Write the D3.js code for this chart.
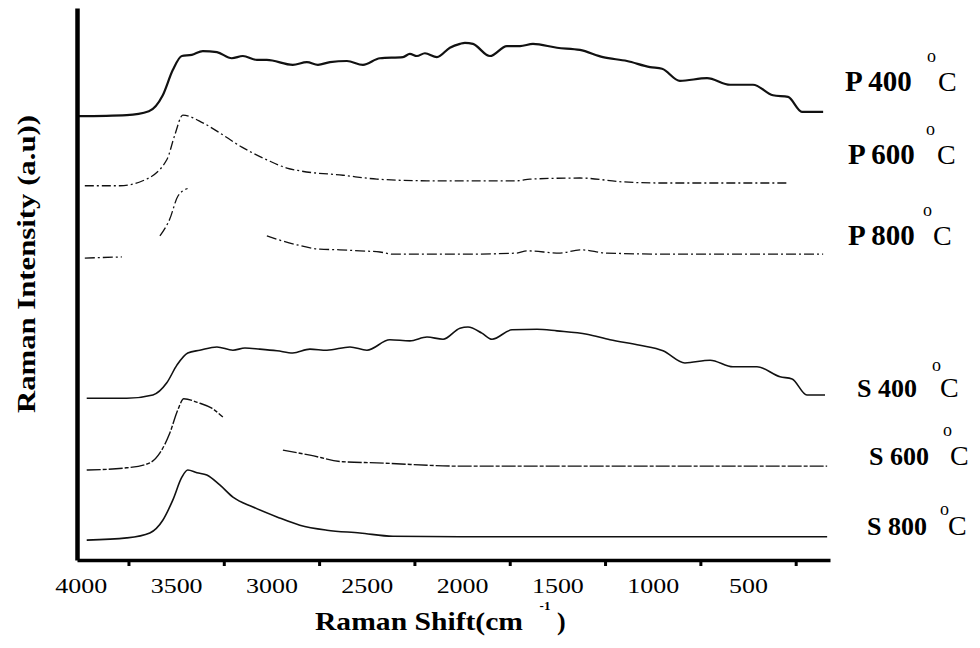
<!DOCTYPE html>
<html><head><meta charset="utf-8">
<script src="https://cdn.jsdelivr.net/npm/d3@7"></script>
<style>html,body{margin:0;padding:0;background:#fff;}svg{display:block;}</style>
</head><body>
<svg id="chart" width="980" height="648"></svg>
<script>
// ---- data (wavenumber cm^-1, intensity a.u.) ----
const tickMarks = [3750, 3250, 2750, 2250, 1750, 1250, 750, 250];
const tickLabels = [4000, 3500, 3000, 2500, 2000, 1500, 1000, 500];
const seriesNames = ["P 400", "P 600", "P 800", "S 400", "S 600", "S 800"];

const p400 = [[4015,80.4],[3759,80.6],[3643,81.3],[3570,84.2],[3517,88.8],[3470,91.3],[3418,91.5],[3360,92.2],[3286,92.0],[3208,90.9],[3150,91.3],[3076,90.6],[3024,90.6],[2888,89.7],[2814,90.2],[2756,89.7],[2693,90.2],[2604,90.4],[2520,89.7],[2431,90.9],[2310,91.1],[2274,91.7],[2237,91.3],[2195,91.8],[2132,91.1],[2064,92.8],[2011,93.5],[1985,93.7],[1943,93.5],[1854,91.3],[1765,93.1],[1696,93.1],[1628,93.5],[1502,92.8],[1382,92.4],[1261,91.1],[1135,90.4],[1014,89.3],[951,89.0],[857,86.8],[715,87.3],[594,86.1],[474,86.1],[369,84.2],[290,83.9],[217,81.2],[106,81.2]];
const p600 = [[3979,67.8],[3795,67.8],[3675,68.7],[3549,72.5],[3507,77.0],[3465,80.6],[3360,79.2],[3286,77.7],[3155,74.8],[3024,72.5],[2919,71.0],[2851,70.5],[2625,69.7],[2447,69.0],[2184,68.7],[2011,68.7],[1712,68.7],[1644,69.0],[1382,69.2],[1156,68.5],[978,68.3],[295,68.3]];
const p800 = [[3979,54.7],[3785,54.9],[3700,null],[3585,58.7],[3533,61.8],[3491,65.9],[3440,67.3],[3300,null],[3024,58.7],[2867,57.1],[2746,56.3],[2641,56.2],[2536,56.0],[2431,55.8],[2363,55.4],[2011,55.4],[1712,55.6],[1660,56.0],[1486,55.6],[1382,56.2],[1240,55.6],[894,55.4],[106,55.4]];
const s400 = [[3969,29.3],[3759,29.3],[3622,29.9],[3549,32.1],[3496,35.3],[3439,37.5],[3376,38.0],[3286,38.6],[3202,38.0],[3139,38.4],[3061,38.2],[2971,37.9],[2888,37.5],[2798,38.2],[2709,38.0],[2588,38.6],[2499,38.0],[2379,39.9],[2274,39.7],[2184,40.4],[2100,40.0],[2011,42.0],[1969,42.2],[1896,41.1],[1843,40.0],[1738,41.7],[1607,41.8],[1502,41.5],[1345,40.9],[1224,39.9],[1067,38.9],[946,37.9],[831,35.7],[699,36.2],[579,35.0],[453,35.0],[332,33.2],[269,32.8],[191,29.9],[96,29.9]];
const s600 = [[3969,16.3],[3759,16.7],[3638,17.6],[3585,19.4],[3533,23.0],[3491,27.2],[3460,29.2],[3376,28.4],[3313,27.5],[3255,25.9],[3100,null],[2940,19.9],[2798,19.0],[2625,17.8],[2447,17.6],[2011,17.0],[85,17.0]];
const s800 = [[3969,3.6],[3759,4.0],[3638,4.9],[3570,7.2],[3517,10.9],[3470,15.0],[3439,16.3],[3391,15.8],[3339,15.4],[3271,13.6],[3202,11.4],[3097,9.6],[2971,7.8],[2851,6.3],[2709,5.4],[2536,4.9],[2363,4.3],[2011,4.2],[85,4.2]];

const seriesData = [p400, p600, p800, s400, s600, s800];

// ---- styles / layout ----
const styles = [
  {w: 2.2, dash: null},
  {w: 1.3, dash: "9,3,2,3"},
  {w: 1.3, dash: "10,3,2,3"},
  {w: 1.6, dash: null},
  {w: 1.4, dash: "14,2,4,2"},
  {w: 1.6, dash: null}
];
const labelPos = [
  {x: 845, y: 91, fs: 29, ox: 927, oy: 62, cx: 938},
  {x: 848, y: 164, fs: 29, ox: 926, oy: 135, cx: 937},
  {x: 848, y: 245, fs: 29, ox: 923, oy: 216, cx: 933},
  {x: 857, y: 397, fs: 26, ox: 932, oy: 371, cx: 940},
  {x: 869, y: 465, fs: 26, ox: 943, oy: 436, cx: 950},
  {x: 867, y: 535, fs: 26, ox: 940, oy: 515, cx: 948}
];

const svg = d3.select("#chart");
svg.append("rect").attr("width", 980).attr("height", 648).attr("fill", "#fff");

const x = d3.scaleLinear().domain([4020, 70]).range([77, 830]);
const y = d3.scaleLinear().domain([0, 100]).range([560, 8]);

const serif = "'Liberation Serif','Times New Roman',serif";

// curves
const line = d3.line()
  .defined(d => d[1] != null)
  .x(d => x(d[0])).y(d => y(d[1]))
  .curve(d3.curveMonotoneX);

seriesData.forEach((s, i) => {
  const p = svg.append("path").datum(s)
    .attr("d", line)
    .attr("fill", "none")
    .attr("stroke", "#111")
    .attr("stroke-width", styles[i].w)
    .attr("stroke-linejoin", "round");
  if (styles[i].dash) p.attr("stroke-dasharray", styles[i].dash);
});

// x axis: tick marks
const gTicks = svg.append("g").attr("transform", "translate(0,560)")
  .call(d3.axisBottom(x).tickValues(tickMarks).tickSize(6).tickSizeOuter(0).tickFormat(""));
gTicks.select(".domain").attr("stroke", "#000").attr("stroke-width", 3.5);
gTicks.selectAll(".tick line").attr("stroke", "#000").attr("stroke-width", 3);

// x axis: labels
const gLab = svg.append("g").attr("transform", "translate(0,560)")
  .call(d3.axisBottom(x).tickValues(tickLabels).tickSize(0).tickFormat(d3.format("d")));
gLab.select(".domain").remove();
gLab.selectAll(".tick text")
  .attr("y", 33).attr("dy", 0)
  .attr("font-family", serif).attr("font-size", 22).attr("fill", "#000")
  .attr("transform", "scale(1.18,1)");

// y axis
const gY = svg.append("g").attr("transform", "translate(77,0)")
  .call(d3.axisLeft(y).tickValues([]).tickSizeOuter(0));
gY.select(".domain").attr("stroke", "#000").attr("stroke-width", 4.5);

// axis titles
svg.append("text").attr("x", 315).attr("y", 630)
  .attr("font-family", serif).attr("font-weight", "bold").attr("font-size", 26)
  .attr("textLength", 208).attr("lengthAdjust", "spacingAndGlyphs")
  .text("Raman Shift(cm");
svg.append("text").attr("x", 557).attr("y", 630)
  .attr("font-family", serif).attr("font-weight", "bold").attr("font-size", 26)
  .text(")");
svg.append("text").attr("x", 545).attr("y", 610).attr("text-anchor", "middle")
  .attr("font-family", serif).attr("font-weight", "bold").attr("font-size", 13)
  .text("-1");

svg.append("text")
  .attr("transform", "translate(35,264) rotate(-90)")
  .attr("text-anchor", "middle")
  .attr("font-family", serif).attr("font-weight", "bold").attr("font-size", 26)
  .attr("textLength", 298).attr("lengthAdjust", "spacingAndGlyphs")
  .text("Raman Intensity (a.u))");

// series labels
seriesNames.forEach((n, i) => {
  const L = labelPos[i];
  svg.append("text").attr("x", L.x).attr("y", L.y)
    .attr("font-family", serif).attr("font-weight", "bold").attr("font-size", L.fs)
    .text(n);
  svg.append("text").attr("x", L.ox).attr("y", L.oy)
    .attr("font-family", serif).attr("font-size", 18)
    .text("o");
  svg.append("text").attr("x", L.cx).attr("y", L.y)
    .attr("font-family", serif).attr("font-size", 28)
    .text("C");
});
</script>
</body></html>
